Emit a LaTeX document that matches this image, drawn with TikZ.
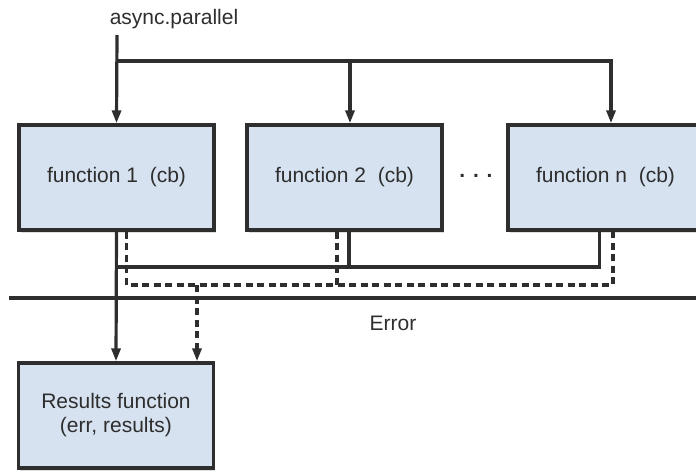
\documentclass[tikz,border=0pt]{standalone}
\usepackage{fontspec}
\setmainfont{Liberation Sans}
\usepackage{xcolor}
\usetikzlibrary{arrows.meta,shadows}

\begin{document}
\begin{tikzpicture}[x=1pt,y=-1pt,
  fnbox/.style={rectangle,draw=ink,line width=3.4pt,fill=boxblue,minimum width=195,minimum height=105,
    drop shadow={opacity=0.25,shadow xshift=1.5pt,shadow yshift=-2.5pt},text=ink,font=\fontsize{21}{24}\selectfont,align=center},
  conn/.style={draw=ink,line width=3.2pt},
  dconn/.style={conn,dash pattern=on 7pt off 4.5pt},
  arr/.style={conn,-{Triangle[length=13pt,width=9pt]}},
  darr/.style={dconn,-{Triangle[length=13pt,width=9pt]}},
  lbl/.style={text=ink,font=\fontsize{21}{24}\selectfont}]
\definecolor{ink}{HTML}{2E2E2E}
\definecolor{boxblue}{HTML}{D6E2F0}
\useasboundingbox (0,0) rectangle (696,471);
\node[lbl,anchor=base] (title) at (174,24) {async.parallel};
  \foreach \lbl/\pos in {1/116.5,2/344.5,n/605.5}
  {  \node [fnbox] (f\lbl) at (\pos,177.5) {function \lbl\ \ (cb)};}
\node[lbl] (dots) at (476,176) {\textbf{. . .}};
\node[fnbox] (results) at (116,415.5) {Results function\\(err, results)};
\coordinate (start) at (117,35);
\coordinate (split) at (117,61);
\coordinate (okrow) at (0,267);
\coordinate (errrow) at (0,285);
\coordinate (errl) at (9,298);
\coordinate (errr) at (696,298);
\node[lbl] (errlbl) at (393,323) {Error};
% fan out
\draw[arr] (start) -- (f1.north);
\draw[arr] (split) -| ([xshift=5.5pt]fn.north);
\draw[arr] ([xshift=5.5pt]f2.north |- split) -- ([xshift=5.5pt]f2.north);
% callbacks
\draw[conn] ([xshift=-6pt]fn.south) |- (f1.south |- okrow);
\draw[conn] ([xshift=4.5pt]f2.south) -- ([xshift=4.5pt]f2.south |- okrow);
\draw[arr] (f1.south) -- (results.north);
\draw[dconn] ([xshift=10pt]f1.south) |- ([xshift=7.5pt]fn.south |- errrow) -- ([xshift=7.5pt]fn.south);
\draw[dconn] ([xshift=-7.5pt]f2.south) -- ([xshift=-7.5pt]f2.south |- errrow);
\draw[darr] ([xshift=81pt]results.north |- errrow) -- ([xshift=81pt]results.north);
\draw[conn] (errl) -- (errr);
\end{tikzpicture}
\end{document}
